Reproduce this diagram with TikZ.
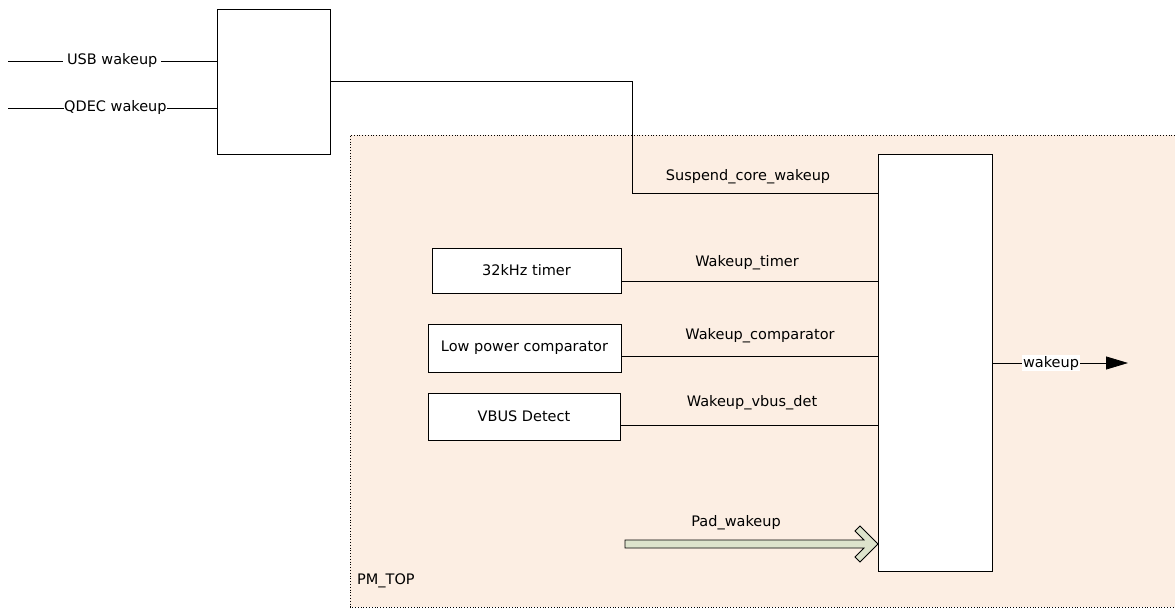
\documentclass[tikz,border=0pt]{standalone}
\usepackage{fontspec}
\setmainfont{DejaVu Sans}
\usetikzlibrary{arrows.meta}
\definecolor{pmfill}{HTML}{FCEEE3}
\definecolor{padfill}{HTML}{DDE3CC}
\tikzset{
  px/.style={x=1pt,y=-1pt},
  blk/.style={draw,fill=white,line width=0.9pt,inner sep=0pt},
  wire/.style={draw,line width=0.8pt},
  lbl/.style={font=\fontsize{14.5}{17}\selectfont,inner sep=1pt},
  onwire/.style={lbl,fill=white,inner sep=1.5pt},
}
\begin{document}
\begin{tikzpicture}[px]
\useasboundingbox (0,0) rectangle (1175,609);
% power-management domain
\fill[pmfill] (350,135) rectangle (1175,607);
\draw[dotted,line width=0.8pt] (1175,135) -- (350,135) -- (350,607) -- (1175,607);
\node[lbl,anchor=west] (pmtop) at (356,581) {PM\_TOP};

% wakeup sources outside the domain
\node[blk,minimum width=113pt,minimum height=145pt] (orgate) at (273.5,81.5) {};
\coordinate (usbin) at (8,61);
\coordinate (qdecin) at (8,108);
\draw[wire] (usbin) -- (orgate.west|-usbin) node[onwire,pos=0.5,inner sep=4pt] (usblbl) {USB wakeup};
\draw[wire] (qdecin) -- (orgate.west|-qdecin) node[onwire,pos=0.515,inner sep=0pt] (qdeclbl) {QDEC wakeup};

% central wakeup collector
\node[blk,minimum width=114pt,minimum height=417pt] (collector) at (935,362.5) {};
\coordinate (bend1) at (632,81);
\coordinate (bend2) at (632,193);
\draw[wire] (orgate.east|-bend1) -- (bend1) -- (bend2) -- (collector.west|-bend2);
\node[lbl] (suspendlbl) at (748,177) {Suspend\_core\_wakeup};

% internal sources
\node[blk,minimum width=189pt,minimum height=45pt,lbl] (timer) at (526.5,270.5) {32kHz timer};
\node[blk,minimum width=193pt,minimum height=48pt,lbl] (comp) at (524.5,348) {Low power comparator};
\node[blk,minimum width=192pt,minimum height=47pt,lbl] (vbus) at (524,416.5) {VBUS Detect};

\draw[wire] (timer.east|-0,281) -- (collector.west|-0,281);
\node[lbl] (timerlbl) at (747,263) {Wakeup\_timer};
\draw[wire] (comp.east|-0,356) -- (collector.west|-0,356);
\node[lbl] (complbl) at (760,336) {Wakeup\_comparator};
\draw[wire] (vbus.east|-0,425) -- (collector.west|-0,425);
\node[lbl] (vbuslbl) at (752,403) {Wakeup\_vbus\_det};

% pad wakeup bus arrow (open chevron head)
\draw[fill=padfill,line width=0.8pt,line join=miter]
  (625,540) -- (864,540) -- (855,531) -- (860,526) -- (878,544) -- (860,562)
  -- (855,557) -- (864,548) -- (625,548) -- cycle;
\node[lbl] (padlbl) at (736,523) {Pad\_wakeup};

% output
\coordinate (wakeout) at (1128,363);
\draw[wire,-{Triangle[length=22pt,width=13pt]}] (collector.east|-wakeout) -- (wakeout);
\node[onwire,inner sep=1pt] (wakelbl) at (1051,363) {wakeup};
\end{tikzpicture}
\end{document}
